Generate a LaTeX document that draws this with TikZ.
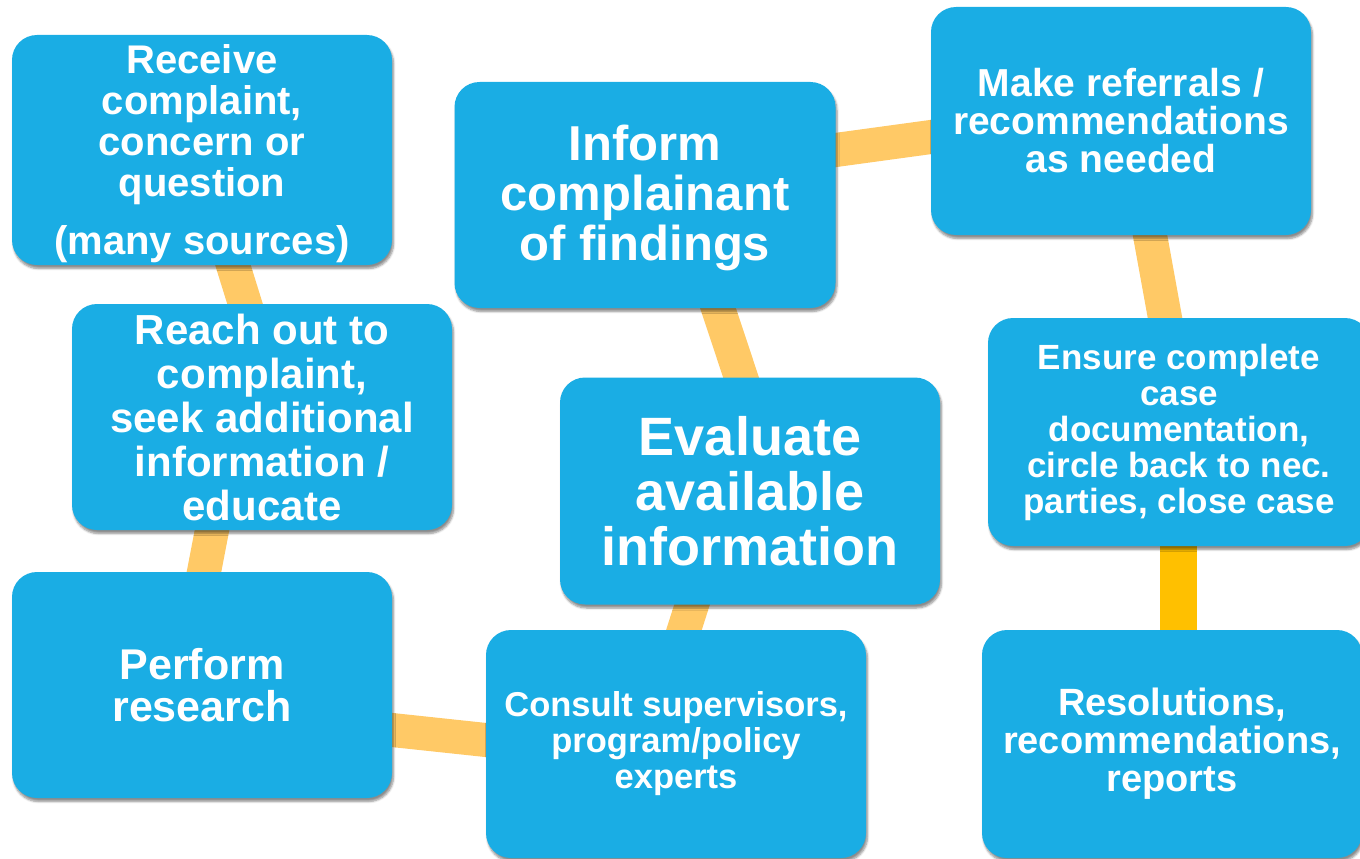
\documentclass[tikz,border=0pt]{standalone}
\usepackage{fontspec}
\setmainfont{Liberation Sans}
\usetikzlibrary{calc,shadows.blur}
\definecolor{boxblue}{HTML}{1AADE4}
\definecolor{linkor}{HTML}{FFC966}
\definecolor{linkdeep}{HTML}{FFC000}
\pgfdeclarelayer{background}
\pgfsetlayers{background,main}
\newcommand{\fs}[2]{\bfseries\fontsize{#1}{#2}\selectfont}
\tikzset{
  stepbox/.style={draw=none, fill=boxblue, rounded corners=25pt, minimum width=380pt,
    minimum height=228pt, inner sep=0pt, align=center, text=white,
    blur shadow={shadow xshift=1.5pt, shadow yshift=-3.5pt, shadow blur steps=6, shadow opacity=45}},
  link/.style={draw=linkor, line width=34pt, shorten <=-10pt, shorten >=-10pt},
  linkdark/.style={draw=linkdeep, line width=37pt, shorten <=-10pt, shorten >=-10pt}
}
\begin{document}
\begin{tikzpicture}[x=1pt,y=-1pt]
\useasboundingbox (0,0) rectangle (1360,859);

\node[stepbox, minimum height=230pt, font=\fs{40}{41}] (rec) at (202,150)
  {\rule{0pt}{37pt}Receive\\complaint,\\concern or\\question\\[17pt](many sources)};
\node[stepbox, minimum height=226pt, font=\fs{42}{44}] (reach) at (262,417)
  {Reach out to\\complaint,\\seek additional\\information /\\educate};
\node[stepbox, minimum height=226pt, font=\fs{43}{42}] (perf) at (202,685)
  {Perform\\research};
\node[stepbox, font=\fs{34.5}{36}] (cons) at (676,744)
  {Consult supervisors,\\program/policy\\experts};
\node[stepbox, minimum height=227pt, font=\fs{54}{55}] (eval) at (750,491)
  {Evaluate\\available\\information};
\node[stepbox, minimum width=381pt, minimum height=226pt, font=\fs{49}{50}] (inform) at (645,195)
  {\rule{0pt}{42pt}Inform\\complainant\\of findings};
\node[stepbox, font=\fs{39}{38}] (make) at (1121,121)
  {Make referrals /\\recommendations\\as needed};
\node[stepbox, minimum width=382pt, font=\fs{35}{36}] (ensure) at (1179,432)
  {Ensure complete\\case\\documentation,\\circle back to nec.\\parties, close case};
\node[stepbox, font=\fs{38}{38}] (resol) at (1172,744)
  {Resolutions,\\recommendations,\\reports};

\begin{pgfonlayer}{background}
\draw[link] ($(rec.south)+(31,0)$) -- ($(reach.north)+(-17,0)$);
\draw[link] ($(reach.south)+(-50,0)$) -- ($(perf.north)+(2,0)$);
\draw[link] ($(perf.east)+(0,45)$) -- ($(cons.west)+(0,-4)$);
\draw[link] ($(cons.north)+(8,0)$) -- ($(eval.south)+(-58,0)$);
\draw[link] ($(eval.north)+(-9,0)$) -- ($(inform.south)+(73,0)$);
\draw[link] ($(inform.east)+(0,-45)$) -- ($(make.west)+(0,16)$);
\draw[link] ($(make.south)+(29,0)$) -- ($(ensure.north)+(-14,0)$);
\draw[linkdark] ($(ensure.south)+(-1,0)$) -- ($(resol.north)+(6,0)$);
\end{pgfonlayer}
\end{tikzpicture}
\end{document}
